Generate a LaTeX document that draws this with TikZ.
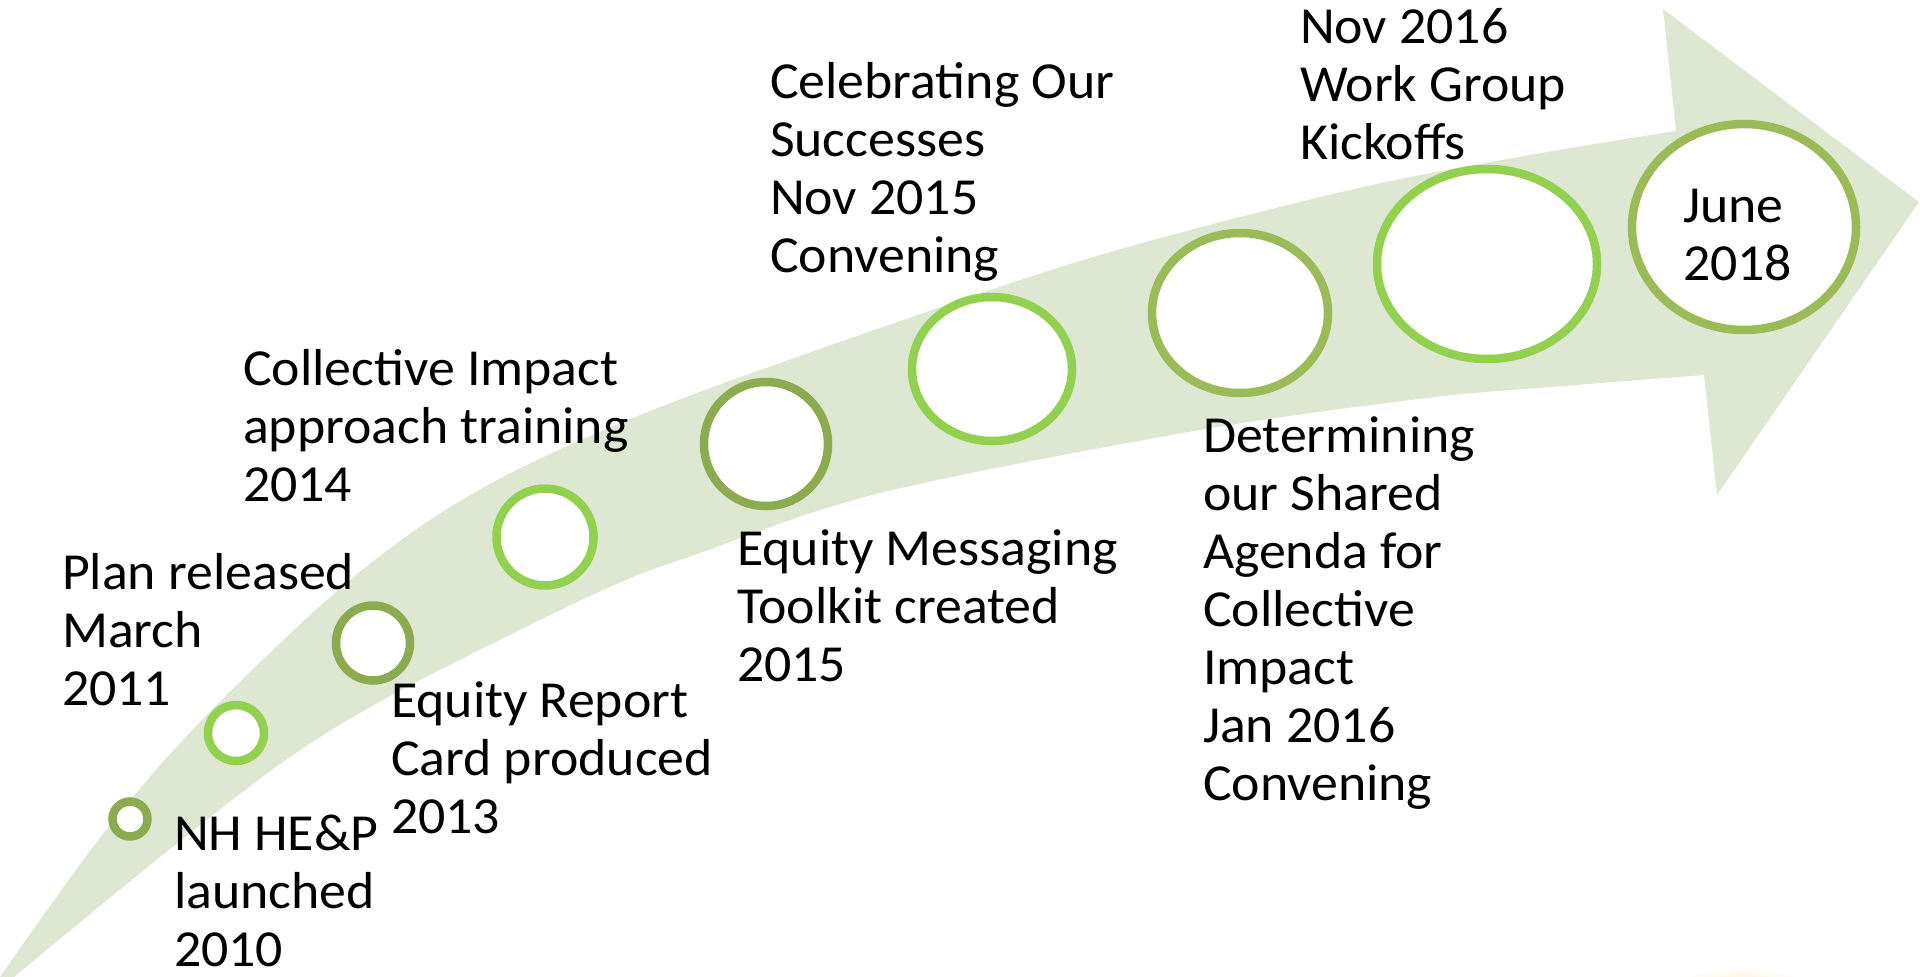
\documentclass[tikz,border=0pt]{standalone}
\usepackage{fontspec}
\setmainfont{Carlito}[FakeStretch=1.035]
\usetikzlibrary{shapes.geometric,shadows}
\definecolor{bandgreen}{HTML}{DEE7D2}
\definecolor{ringdark}{HTML}{8CAA50}
\definecolor{ringmid}{HTML}{9BBB59}
\definecolor{ringbright}{HTML}{92D050}
\begin{document}
\begin{tikzpicture}[x=1pt,y=-1pt,
  lbl/.style={anchor=north west, inner sep=0pt, outer sep=0pt, align=left,
    font=\fontsize{52}{58}\selectfont},
  ring/.style={ellipse, fill=white, inner sep=0pt, outer sep=0pt, line width=8.5pt,
    drop shadow={shadow xshift=1pt, shadow yshift=-3.5pt, opacity=0.25}},
  darkring/.style={ring, draw=ringdark},
  midring/.style={ring, draw=ringmid},
  brightring/.style={ring, draw=ringbright}]
\useasboundingbox (0,0) rectangle (1920,977);
\fill[white] (0,0) rectangle (1920,977);
% faint glow at bottom right
\shade[inner color=yellow!35!orange!25, outer color=white] (1740,990) ellipse (75 and 22);
% curved arrow band
\fill[bandgreen]
  plot[smooth, tension=0.55] coordinates {(0,977) (100,838) (200,722) (350,580) (479,490)
     (645,413) (880,328) (1100,255) (1350,190) (1530,155) (1676,131)}
  -- (1663,9) -- (1919,202) -- (1717,495) -- (1704,375)
  -- plot[smooth, tension=0.55] coordinates {(1704,375) (1550,387) (1427,398) (1200,430)
     (880,493) (700,553) (603,590) (407,687) (290,757) (160,857) (14,977)}
  -- cycle;
% milestone rings
\node[darkring, minimum width=35pt, minimum height=35pt] (c1) at (130,819) {};
\node[brightring, minimum width=56pt, minimum height=56pt] (c2) at (236,733) {};
\node[darkring, minimum width=74pt, minimum height=75pt] (c3) at (373,643) {};
\node[brightring, minimum width=97pt, minimum height=97pt] (c4) at (545,537) {};
\node[darkring, minimum width=124pt, minimum height=124pt] (c5) at (766,444) {};
\node[brightring, minimum width=160pt, minimum height=144pt] (c6) at (992,369) {};
\node[midring, minimum width=176pt, minimum height=160pt] (c7) at (1240,313) {};
\node[brightring, minimum width=220pt, minimum height=190pt] (c8) at (1487,264) {};
\node[midring, minimum width=224pt, minimum height=206pt] (c9) at (1744,227) {};
% labels
\node[lbl] (tplan) at (62,548.4) {\strut Plan released\\March\\2011};
\node[lbl] (tnh) at (174,809.4) {\strut NH HE\&P\\launched\\2010};
\node[lbl] (tcoll) at (243,344.4) {\strut Collective Impact\\approach training\\2014};
\node[lbl] (teqrep) at (391,676.4) {\strut Equity Report\\Card produced\\2013};
\node[lbl] (tceleb) at (770,57.4) {\strut Celebrating Our\\Successes\\Nov 2015\\Convening};
\node[lbl] (teqmsg) at (737,524.4) {\strut Equity Messaging\\Toolkit created\\2015};
\node[lbl] (tnov) at (1300,2.4) {\strut Nov 2016\\Work Group\\Kickoffs};
\node[lbl] (tdet) at (1203,411.4) {\strut Determining\\our Shared\\Agenda for\\Collective\\Impact\\Jan 2016\\Convening};
\node[lbl] (tjune) at (1683,181.4) {\strut June\\2018};
\end{tikzpicture}
\end{document}
